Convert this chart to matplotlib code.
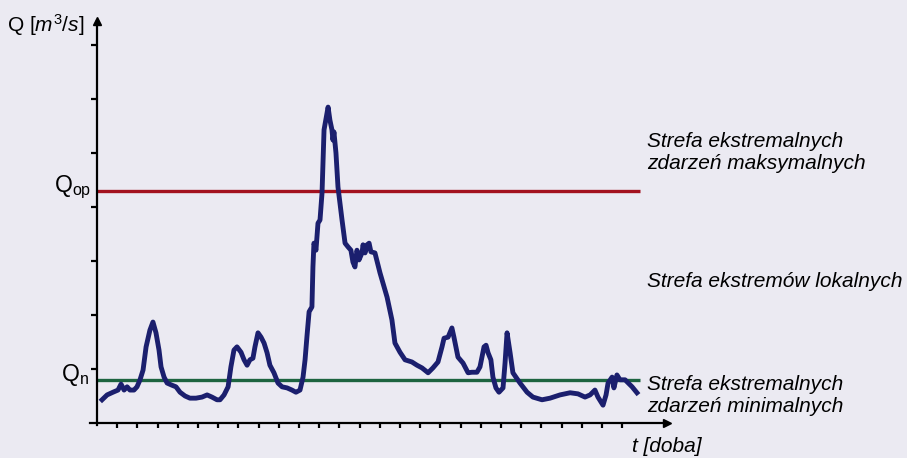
import numpy as np
import matplotlib
matplotlib.use("Agg")
from matplotlib import pyplot as plt

plt.rcParams["font.family"] = ["Liberation Sans", "DejaVu Sans"]
plt.rcParams["mathtext.fontset"] = "custom"
plt.rcParams["mathtext.rm"] = "Liberation Sans"
plt.rcParams["mathtext.it"] = "Liberation Sans:italic"

# ── data (t in days, Q in tick units) ─────────────────────────────────────────
t_days = [0.25, 0.50, 0.79, 1.04, 1.19, 1.34, 1.49, 1.63, 1.83, 1.98,
          2.13, 2.28, 2.43, 2.62, 2.77, 2.92, 3.07, 3.17, 3.32, 3.47,
          3.71, 3.91, 4.11, 4.36, 4.60, 4.90, 5.20, 5.45, 5.69, 5.94,
          6.09, 6.29, 6.49, 6.63, 6.78, 6.93, 7.13, 7.28, 7.43, 7.57,
          7.72, 7.82, 7.97, 8.12, 8.27, 8.42, 8.56, 8.76, 8.96, 9.16,
          9.41, 9.65, 9.85, 10.05, 10.20, 10.30, 10.40, 10.50, 10.64, 10.69,
          10.74, 10.84, 10.94, 11.04, 11.14, 11.24, 11.39, 11.44, 11.53, 11.63,
          11.68, 11.73, 11.83, 11.93, 12.13, 12.28, 12.43, 12.57, 12.67, 12.77,
          12.87, 12.97, 13.12, 13.17, 13.27, 13.37, 13.47, 13.56, 13.76, 14.01,
          14.36, 14.60, 14.75, 15.00, 15.25, 15.59, 15.84, 16.09, 16.39, 16.63,
          16.88, 17.08, 17.18, 17.38, 17.57, 17.67, 17.87, 18.12, 18.37, 18.56,
          18.81, 18.96, 19.16, 19.26, 19.36, 19.50, 19.60, 19.75, 19.90, 20.10,
          20.20, 20.30, 20.45, 20.59, 20.94, 21.29, 21.58, 22.03, 22.43, 22.92,
          23.42, 23.81, 24.16, 24.41, 24.65, 24.80, 25.05, 25.20, 25.30, 25.50,
          25.59, 25.74, 25.89, 26.14, 26.49, 26.73]
q_flow = [0.43, 0.52, 0.57, 0.61, 0.72, 0.61, 0.67, 0.61, 0.61, 0.67,
          0.80, 0.98, 1.41, 1.72, 1.87, 1.67, 1.35, 1.04, 0.85, 0.74,
          0.70, 0.67, 0.57, 0.50, 0.46, 0.46, 0.48, 0.52, 0.48, 0.43,
          0.43, 0.52, 0.67, 1.04, 1.35, 1.41, 1.31, 1.17, 1.07, 1.17,
          1.20, 1.41, 1.67, 1.59, 1.48, 1.30, 1.07, 0.93, 0.74, 0.67,
          0.65, 0.61, 0.57, 0.61, 0.85, 1.17, 1.63, 2.06, 2.15, 2.89,
          3.33, 3.20, 3.70, 3.76, 4.26, 5.43, 5.74, 5.85, 5.61, 5.43,
          5.24, 5.39, 5.00, 4.37, 3.76, 3.33, 3.26, 3.20, 2.98, 2.89,
          3.20, 3.02, 3.15, 3.30, 3.15, 3.30, 3.33, 3.17, 3.15, 2.78,
          2.33, 1.91, 1.48, 1.31, 1.17, 1.13, 1.07, 1.02, 0.93, 1.02,
          1.13, 1.41, 1.57, 1.59, 1.76, 1.59, 1.22, 1.11, 0.93, 0.94,
          0.94, 1.04, 1.41, 1.44, 1.30, 1.17, 0.85, 0.65, 0.57, 0.65,
          1.11, 1.67, 1.30, 0.93, 0.74, 0.57, 0.48, 0.43, 0.46, 0.52,
          0.56, 0.54, 0.48, 0.52, 0.61, 0.48, 0.33, 0.52, 0.74, 0.85,
          0.65, 0.89, 0.80, 0.80, 0.67, 0.56]

Q_OP = 4.30   # threshold of maximum extremes
Q_N = 0.79    # threshold of minimum extremes
T_END = 26.9  # extent of threshold lines

zone_labels = ["Strefa ekstremalnych\nzdarzeń maksymalnych",
               "Strefa ekstremów lokalnych",
               "Strefa ekstremalnych\nzdarzeń minimalnych"]

BG = "#ebeaf2"
NAVY = "#1b1f6e"
RED = "#a3121f"
GREEN = "#1d6440"

# ── figure: one axes over the whole canvas ────────────────────────────────────
fig = plt.figure(figsize=(9.07, 4.58), dpi=100, facecolor=BG)
ax = fig.add_axes([0, 0, 1, 1], facecolor=BG)
ax.set_xlim(-97 / 20.2, (907 - 97) / 20.2)
ax.set_ylim(-(458 - 423) / 54, 423 / 54)

for s in ["top", "right"]:
    ax.spines[s].set_visible(False)
ax.spines["left"].set_position(("data", 0))
ax.spines["bottom"].set_position(("data", 0))
ax.spines["left"].set_bounds(-0.04, 7.45)
ax.spines["bottom"].set_bounds(-0.35, 28.2)
ax.spines["left"].set_linewidth(1.6)
ax.spines["bottom"].set_linewidth(1.6)
ax.plot(0, 7.45, marker="^", color="k", markersize=6, clip_on=False)
ax.plot(28.2, 0, marker=">", color="k", markersize=6, clip_on=False)

ax.set_xticks(range(1, 27))
ax.set_yticks(range(1, 8))
ax.set_xticklabels([])
ax.set_yticklabels([])
ax.tick_params(axis="x", direction="out", length=3.5, width=1.6, pad=0)
ax.tick_params(axis="y", direction="out", length=4, width=1.6, pad=0)

# thresholds
ax.plot([0, T_END], [Q_OP, Q_OP], color=RED, lw=2.4, solid_capstyle="butt")
ax.plot([0, T_END], [Q_N, Q_N], color=GREEN, lw=2.4, solid_capstyle="butt")

# discharge hydrograph
ax.plot(t_days, q_flow, color=NAVY, lw=3.5, solid_joinstyle="round", zorder=3)

# labels
fs = 15
ax.text(-4.45, 7.37, r"Q $\mathit{[m^3/s]}$", fontsize=fs, ha="left", va="center")
ax.text(-0.3, Q_OP + 0.06, r"$\mathregular{Q_{op}}$", fontsize=fs + 1.5, ha="right", va="center")
ax.text(-0.4, Q_N + 0.09, r"$\mathregular{Q_{n}}$", fontsize=fs + 1.5, ha="right", va="center")

ax.text(27.23, 5.00, zone_labels[0], fontsize=fs, style="italic", ha="left",
        va="center", linespacing=1.2)
ax.text(27.23, 2.62, zone_labels[1], fontsize=fs, style="italic", ha="left", va="center")
ax.text(27.23, 0.50, zone_labels[2], fontsize=fs, style="italic", ha="left",
        va="center", linespacing=1.2)
ax.text(26.49, -0.44, "t [doba]", fontsize=fs, style="italic", ha="left", va="center")

fig.savefig("out.png", dpi=100, facecolor=BG)
